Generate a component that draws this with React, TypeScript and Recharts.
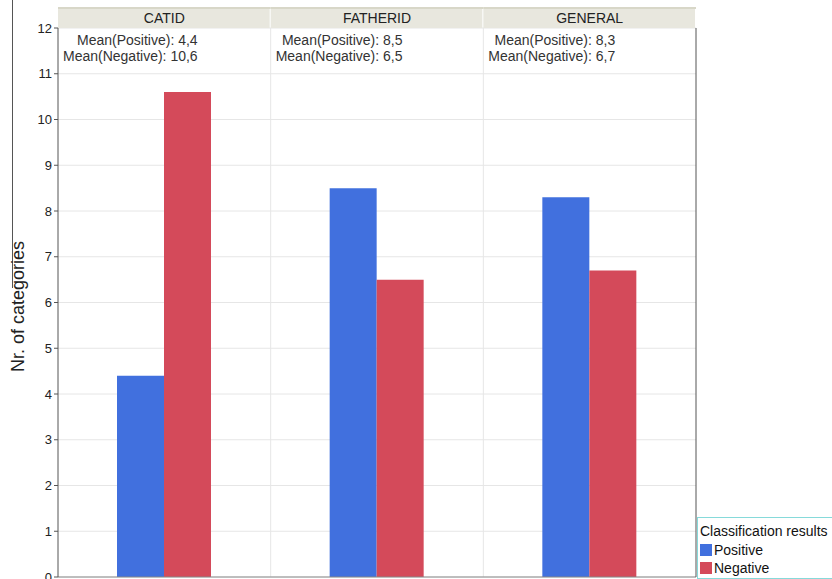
import React from 'react';
import { BarChart, Bar, XAxis, YAxis, CartesianGrid, Legend } from 'recharts';

const categories = ['CATID', 'FATHERID', 'GENERAL'];
const seriesNames = ['Positive', 'Negative'];
const positiveValues = [4.4, 8.5, 8.3];
const negativeValues = [10.6, 6.5, 6.7];
const positiveLabels = ['4,4', '8,5', '8,3'];
const negativeLabels = ['10,6', '6,5', '6,7'];
const yTicks = [0, 1, 2, 3, 4, 5, 6, 7, 8, 9, 10, 11, 12];

const data = categories.map((c, i) => ({
  name: c,
  Positive: positiveValues[i],
  Negative: negativeValues[i],
  posLabel: positiveLabels[i],
  negLabel: negativeLabels[i],
}));

const FONT = 'Arial, "Liberation Sans", sans-serif';
const BLUE = '#4170de';
const RED = '#d44a5a';

const HeaderTick = (props: any) => {
  const { x, y, payload, index, width, visibleTicksCount } = props;
  const bw = width && visibleTicksCount ? width / visibleTicksCount : 213;
  const row = data[index] || data[0];
  const left = x - bw / 2;
  return (
    <g>
      <rect x={left} y={y - 21} width={bw - 1} height={21} fill="#e8e7de" />
      <rect x={left} y={y - 21} width={bw} height={2} fill="#d8d7c8" />
      <text x={x} y={y - 10} textAnchor="middle" dominantBaseline="central" fontSize={14} fontFamily={FONT} fill="#222">
        {payload.value}
      </text>
      <foreignObject x={left + 5} y={y + 4} width={bw - 8} height={36}>
        <div
          style={{
            display: 'inline-block',
            textAlign: 'right',
            fontFamily: FONT,
            fontSize: 14,
            lineHeight: '16px',
            color: '#333',
            whiteSpace: 'nowrap',
          }}
        >
          <div>Mean(Positive): {row.posLabel}</div>
          <div>Mean(Negative): {row.negLabel}</div>
        </div>
      </foreignObject>
    </g>
  );
};

const LegendBox = (props: any) => {
  const payload = [...(props.payload || [])].sort(
    (a: any, b: any) => seriesNames.indexOf(a.value) - seriesNames.indexOf(b.value)
  );
  return (
    <div
      style={{
        border: '1px solid #86dada',
        borderRight: 'none',
        boxSizing: 'border-box',
        width: 135,
        height: 62,
        padding: '3px 0 0 2px',
        fontFamily: FONT,
        fontSize: 14,
        color: '#111',
        background: '#fff',
      }}
    >
      <div style={{ lineHeight: '20px', height: 20 }}>Classification results</div>
      {payload.map((p: any) => (
        <div key={p.value} style={{ display: 'flex', alignItems: 'center', height: 18 }}>
          <span style={{ display: 'inline-block', width: 12, height: 12, background: p.color, marginRight: 2 }} />
          <span>{p.value}</span>
        </div>
      ))}
    </div>
  );
};

const YLabel = (props: any) => {
  const vb = props.viewBox || { x: 0, y: 28, width: 58, height: 549 };
  const cx = 18;
  const cy = vb.y + vb.height / 2 + 4;
  return (
    <text
      x={cx}
      y={cy}
      transform={`rotate(-90 ${cx} ${cy})`}
      textAnchor="middle"
      dominantBaseline="central"
      fontSize={18}
      fontFamily={FONT}
      fill="#222"
    >
      Nr. of categories
    </text>
  );
};

export default function App() {
  return (
    <div style={{ position: 'absolute', left: 0, top: 0, width: 832, height: 579, background: '#fff' }}>
      <div style={{ position: 'absolute', left: 12, top: 0, width: 1, height: 288, background: '#555' }} />
      <BarChart
        width={832}
        height={579}
        data={data}
        margin={{ top: 7, right: 135, bottom: 0, left: 0 }}
        barGap={0}
        barCategoryGap="28%"
      >
        <CartesianGrid
          stroke="#e6e6e6"
          verticalCoordinatesGenerator={({ offset }: any) => [
            offset.left + offset.width / 3,
            offset.left + (2 * offset.width) / 3,
          ]}
        />
        <XAxis
          xAxisId="bottom"
          dataKey="name"
          height={2}
          tick={false}
          tickLine={false}
          axisLine={{ stroke: '#888' }}
        />
        <XAxis
          xAxisId="top"
          dataKey="name"
          orientation="top"
          height={21}
          tickSize={0}
          tickMargin={0}
          axisLine={false}
          tickLine={false}
          tick={<HeaderTick />}
          interval={0}
        />
        <YAxis
          width={58}
          domain={[0, 12]}
          ticks={yTicks}
          interval={0}
          tickSize={4}
          tickMargin={2}
          axisLine={{ stroke: '#555' }}
          tickLine={{ stroke: '#555' }}
          tick={{ fontSize: 13, fontFamily: FONT, fill: '#222' }}
          label={<YLabel />}
        />
        <YAxis
          yAxisId="right"
          orientation="right"
          width={1}
          domain={[0, 12]}
          tick={false}
          tickLine={false}
          axisLine={{ stroke: '#555' }}
        />
        <Bar xAxisId="bottom" dataKey="Positive" name="Positive" fill={BLUE} barSize={47} isAnimationActive={false} />
        <Bar xAxisId="bottom" dataKey="Negative" name="Negative" fill={RED} barSize={47} isAnimationActive={false} />
        <Legend
          layout="horizontal"
          verticalAlign="middle"
          align="center"
          content={<LegendBox />}
          wrapperStyle={{ position: 'absolute', left: 697, top: 517, width: 135, height: 62 }}
        />
      </BarChart>
    </div>
  );
}
